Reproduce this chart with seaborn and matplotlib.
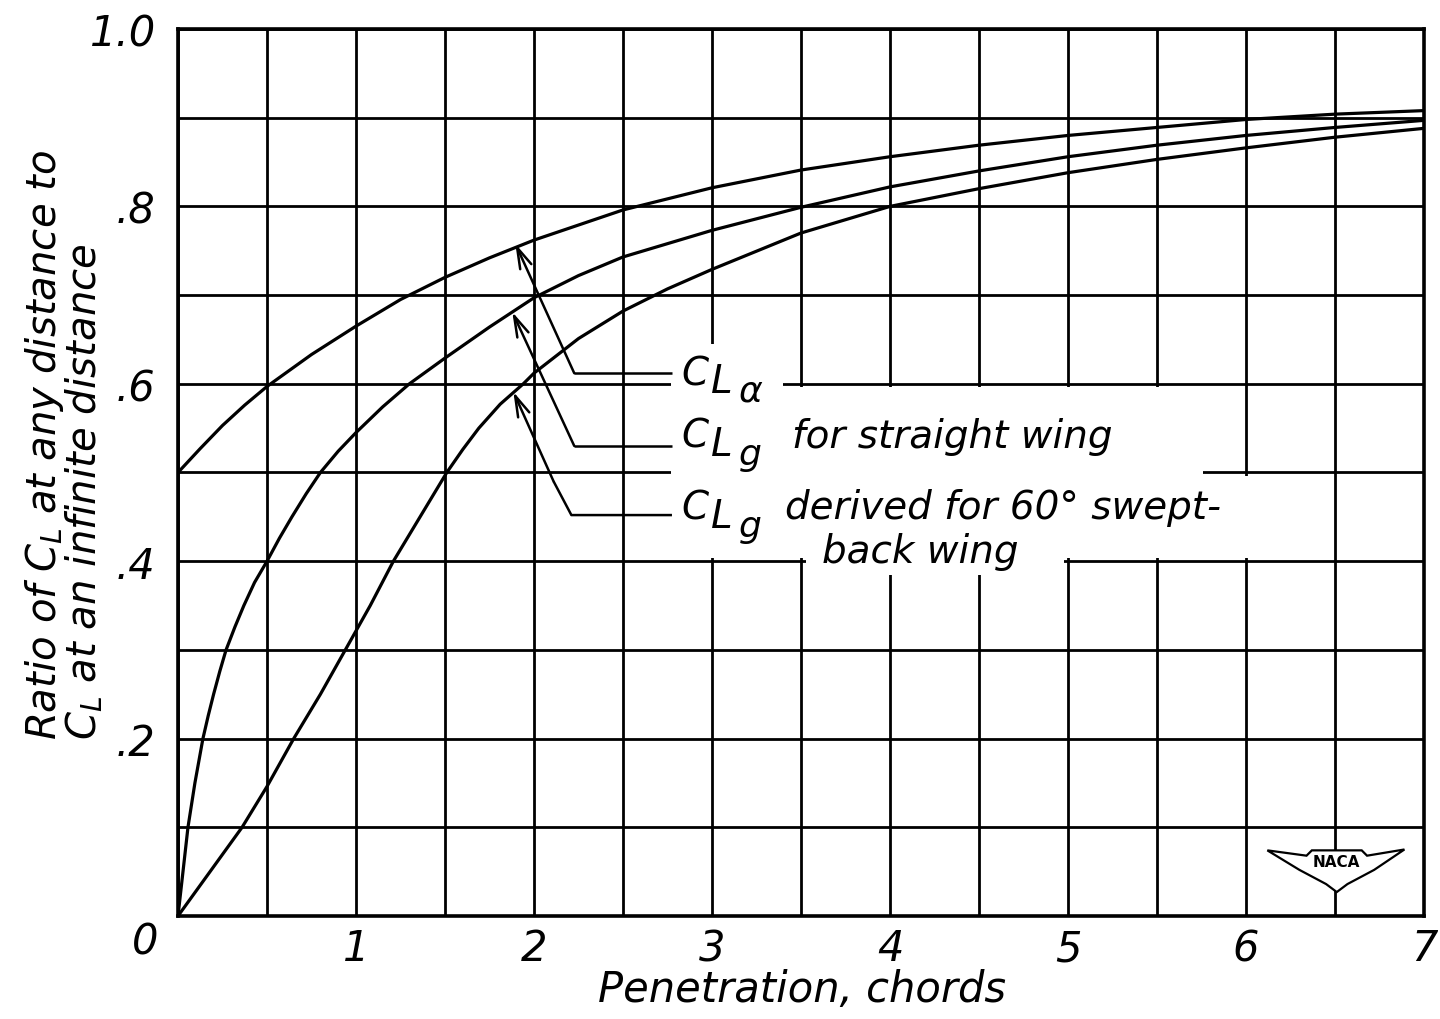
import matplotlib
matplotlib.use("Agg")
import matplotlib.pyplot as plt
import seaborn as sns
import pandas as pd
import numpy as np
from matplotlib.ticker import MultipleLocator, FixedLocator, FixedFormatter

# ---------------- data ----------------
x_cla = [0.0, 0.125, 0.25, 0.375, 0.5, 0.75, 1.0, 1.25, 1.5, 1.75, 2.0, 2.5, 3.0, 3.5, 4.0, 4.5, 5.0, 5.5, 6.0, 6.5, 7.0]
y_cla = [0.500, 0.527, 0.553, 0.576, 0.597, 0.633, 0.665, 0.695, 0.720, 0.742, 0.762, 0.796, 0.821, 0.841, 0.856,
         0.869, 0.880, 0.889, 0.898, 0.904, 0.908]

x_clg_straight = [0.0, 0.028, 0.056, 0.095, 0.14, 0.17, 0.2, 0.235, 0.27, 0.32, 0.37, 0.43, 0.5, 0.57, 0.64, 0.72,
                  0.8, 0.9, 1.0, 1.15, 1.3, 1.5, 1.75, 2.0, 2.25, 2.5, 3.0, 3.5, 4.0, 4.5, 5.0, 5.5, 6.0, 6.5, 7.0]
y_clg_straight = [0.0, 0.05, 0.10, 0.15, 0.20, 0.226, 0.25, 0.276, 0.30, 0.326, 0.35, 0.376, 0.40, 0.426, 0.45,
                  0.476, 0.50, 0.524, 0.545, 0.574, 0.60, 0.629, 0.664, 0.697, 0.722, 0.743, 0.773, 0.799, 0.822,
                  0.840, 0.856, 0.869, 0.880, 0.889, 0.897]

x_clg_swept = [0.0, 0.18, 0.36, 0.5, 0.65, 0.8, 0.94, 1.08, 1.21, 1.36, 1.51, 1.6, 1.69, 1.81, 1.94, 2.0, 2.25, 2.5,
               2.75, 3.0, 3.5, 4.0, 4.5, 5.0, 5.5, 6.0, 6.5, 7.0]
y_clg_swept = [0.0, 0.05, 0.10, 0.146, 0.20, 0.25, 0.30, 0.35, 0.40, 0.45, 0.50, 0.526, 0.55, 0.577, 0.60, 0.612,
               0.651, 0.682, 0.707, 0.729, 0.770, 0.800, 0.820, 0.838, 0.853, 0.866, 0.878, 0.888]

x_tick_values = [0, 1, 2, 3, 4, 5, 6, 7]
x_tick_labels = ["", "1", "2", "3", "4", "5", "6", "7"]
y_tick_values = [0.2, 0.4, 0.6, 0.8, 1.0]
y_tick_labels = [".2", ".4", ".6", ".8", "1.0"]

# ---------------- style ----------------
sns.set_theme(style="white")
plt.rcParams["font.family"] = ["DejaVu Sans"]
plt.rcParams["mathtext.fontset"] = "dejavusans"
plt.rcParams["font.style"] = "italic"
plt.rcParams["text.color"] = "black"
plt.rcParams["axes.labelcolor"] = "black"

W, H = 1440, 1020
X0, X1, Y0, Y1 = 178, 1424, 917, 30
fig = plt.figure(figsize=(W / 100, H / 100), dpi=100)
fig.patch.set_facecolor("white")
ax = fig.add_axes([X0 / W, 1 - Y0 / H, (X1 - X0) / W, (Y0 - Y1) / H])
ax.set_facecolor("white")
ax.set_xlim(0, 7)
ax.set_ylim(0, 1)


def P(px, py):
    """pixel position in the picture -> data coordinates (for label layout)"""
    return ((px - X0) / ((X1 - X0) / 7.0), (Y0 - py) / (Y0 - Y1))


GRID_LW = 2.0
ax.xaxis.set_major_locator(FixedLocator(x_tick_values))
ax.xaxis.set_major_formatter(FixedFormatter(x_tick_labels))
ax.xaxis.set_minor_locator(MultipleLocator(0.5))
ax.yaxis.set_major_locator(FixedLocator(y_tick_values))
ax.yaxis.set_major_formatter(FixedFormatter(y_tick_labels))
ax.yaxis.set_minor_locator(MultipleLocator(0.1))
ax.grid(True, which="both", color="black", linewidth=GRID_LW, zorder=1)
ax.set_axisbelow(True)
ax.tick_params(axis="both", which="both", length=0, labelsize=30, colors="black")
ax.tick_params(axis="x", pad=8)
ax.tick_params(axis="y", pad=16)
for lab in ax.get_xticklabels() + ax.get_yticklabels():
    lab.set_fontstyle("italic")
for sp in ax.spines.values():
    sp.set_color("black")
    sp.set_linewidth(2.6)
    sp.set_zorder(6)

# curves
series = {
    "cla": (x_cla, y_cla),
    "clg_straight": (x_clg_straight, y_clg_straight),
    "clg_swept": (x_clg_swept, y_clg_swept),
}
for name, (xs, ys) in series.items():
    df = pd.DataFrame({"x": xs, "y": ys})
    sns.lineplot(data=df, x="x", y="y", ax=ax, color="black", linewidth=2.3,
                 estimator=None, sort=True, zorder=4)
ax.set_xlabel("")
ax.set_ylabel("")

# white gap in the grid around the labels
gap = np.array([
    (2.77, 0.645), (3.40, 0.645), (3.40, 0.5965), (5.76, 0.5965), (5.76, 0.4965),
    (6.22, 0.4965), (6.22, 0.4035), (4.98, 0.4035), (4.98, 0.385), (3.53, 0.385),
    (3.53, 0.4035), (2.77, 0.4035),
])
ax.fill(gap[:, 0], gap[:, 1], color="white", zorder=2, lw=0)

# leaders and arrows
leaders = [
    ((1.895, 0.758), [(2.226, 0.612), (2.775, 0.612)]),
    ((1.878, 0.681), [(2.226, 0.530), (2.775, 0.530)]),
    ((1.884, 0.591), [(2.11, 0.49), (2.21, 0.452), (2.775, 0.452)]),
]
for tip, pts in leaders:
    ax.plot([p[0] for p in pts], [p[1] for p in pts], color="black", lw=1.8, zorder=5,
            solid_capstyle="butt")
    ax.annotate("", xy=tip, xytext=pts[0],
                arrowprops=dict(arrowstyle="->,head_length=0.75,head_width=0.22",
                                color="black", lw=1.8, shrinkA=0, shrinkB=0,
                                mutation_scale=20),
                zorder=5)

FS_C = 28
FS_SUB = 26


def coef(px, base, sub):
    ax.text(*P(px, base), "C", fontsize=FS_C, va="baseline", ha="left", zorder=6)
    ax.text(*P(px + 30, base + 8), "L", fontsize=FS_C, va="baseline", ha="left", zorder=6)
    ax.text(*P(px + 58, base + 17), sub, fontsize=FS_SUB, va="baseline", ha="left", zorder=6)


coef(681, 385, "α")
coef(681, 448, "g")
coef(681, 520, "g")
ax.text(*P(792, 448), "for straight wing", fontsize=FS_C, va="baseline", ha="left", zorder=6)
ax.text(*P(785, 519), "derived for 60° swept-", fontsize=FS_C, va="baseline", ha="left", zorder=6)
ax.text(*P(822, 563), "back wing", fontsize=FS_C, va="baseline", ha="left", zorder=6)

# NACA logo
logo = np.array([
    (6.12, 0.074), (6.34, 0.068), (6.37, 0.074), (6.65, 0.074), (6.68, 0.068), (6.89, 0.075),
    (6.72, 0.052), (6.57, 0.036), (6.51, 0.027), (6.45, 0.036), (6.30, 0.052),
])
ax.fill(logo[:, 0], logo[:, 1], facecolor="white", edgecolor="black", lw=1.6, zorder=5)
ax.text(6.51, 0.061, "NACA", fontsize=11, fontweight="bold", fontstyle="normal",
        ha="center", va="center", zorder=6)

# corner zero and axis titles
ax.text(*P(145, 943), "0", fontsize=30, ha="center", va="center", clip_on=False)
fig.text(802 / W, 1 - 990 / H, "Penetration, chords", fontsize=30, ha="center", va="center")
fig.text(56 / W, 1 - 445 / H, "Ratio of $C_L$ at any distance to", fontsize=29, rotation=90,
         rotation_mode="anchor", ha="center", va="baseline")
fig.text(96 / W, 1 - 492 / H, "$C_L$ at an infinite distance", fontsize=29, rotation=90,
         rotation_mode="anchor", ha="center", va="baseline")

fig.savefig("out.png", dpi=100, facecolor="white")
